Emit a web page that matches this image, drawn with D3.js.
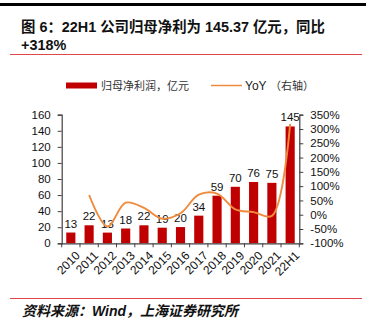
<!DOCTYPE html>
<html><head><meta charset="utf-8">
<script src="https://cdn.jsdelivr.net/npm/d3@7/dist/d3.min.js"></script>
<style>
body{margin:0;background:#fff;}
svg{display:block;font-family:"Liberation Sans",Arial,sans-serif;}
</style></head>
<body>
<svg id="c" width="369" height="325"></svg>
<script>
const categories = ["2010","2011","2012","2013","2014","2015","2016","2017","2018","2019","2020","2021","22H1"];
const profit = [13.4, 22.4, 13.3, 18.4, 22.4, 19.4, 20.2, 34.4, 59.2, 70.3, 76.3, 75.2, 145.37];
const profitLabels = ["13","22","13","18","22","19","20","34","59","70","76","75","145"];
const yoy = [null, 69, -41, 42, 24, -14, 5, 70, 74, 19, 9, -4, 318];
const leftTicks = [0,20,40,60,80,100,120,140,160];
const rightTicks = [-100,-50,0,50,100,150,200,250,300,350];

const svg = d3.select("#c");
const L = 61.7, R = 299.3, T = 114.7, B = 243.3;
const x = d3.scaleBand().domain(categories).range([L, R]).paddingInner(0.5).paddingOuter(0.25);
const y = d3.scaleLinear().domain([0,160]).range([B, T]);
const y2 = d3.scaleLinear().domain([-100,350]).range([B, T]);
const axisColor = "#404040";

// top black rule
svg.append("rect").attr("x",0).attr("y",3).attr("width",366).attr("height",3).attr("fill","#000");
// title
const title = svg.append("text").attr("font-weight","bold").attr("font-size",14.4).attr("fill","#111")
  .attr("font-family","'Liberation Sans','Noto Sans CJK SC',sans-serif");
title.append("tspan").attr("x",21).attr("y",32).text("图 6：22H1 公司归母净利为 145.37 亿元，同比");
title.append("tspan").attr("x",21).attr("y",50).text("+318%");
// red rules
svg.append("line").attr("x1",10).attr("x2",362).attr("y1",54.5).attr("y2",54.5).attr("stroke","#E0474C").attr("stroke-width",1);
svg.append("line").attr("x1",10).attr("x2",362).attr("y1",298.5).attr("y2",298.5).attr("stroke","#E0474C").attr("stroke-width",1);
// source
svg.append("text").attr("x",22).attr("y",316).attr("font-size",14).attr("font-style","italic").attr("font-weight","bold")
  .attr("fill","#111").attr("font-family","'Liberation Sans','Noto Sans CJK SC',sans-serif")
  .text("资料来源：Wind，上海证券研究所");

// legend
svg.append("rect").attr("x",66).attr("y",82.5).attr("width",31).attr("height",6).attr("fill","#C00000");
svg.append("text").attr("x",101).attr("y",89.5).attr("font-size",11).attr("fill","#333")
  .attr("font-family","'Noto Sans CJK SC',sans-serif").text("归母净利润，亿元");
svg.append("line").attr("x1",211).attr("x2",242).attr("y1",85.5).attr("y2",85.5).attr("stroke","#F08A3C").attr("stroke-width",1.5);
svg.append("text").attr("x",245).attr("y",90).attr("font-size",12).attr("fill","#222").text("YoY");
svg.append("text").attr("x",270).attr("y",89.5).attr("font-size",11).attr("fill","#333")
  .attr("font-family","'Noto Sans CJK SC',sans-serif").text("（右轴）");

// bars
svg.append("g").selectAll("rect").data(categories).join("rect")
  .attr("x", d => x(d)).attr("width", x.bandwidth())
  .attr("y", (d,i) => y(profit[i])).attr("height", (d,i) => B - y(profit[i]))
  .attr("fill","#C00000");
// bar labels
svg.append("g").selectAll("text").data(categories).join("text")
  .attr("x", d => x(d) + x.bandwidth()/2).attr("y", (d,i) => y(profit[i]) - 5)
  .attr("text-anchor","middle").attr("font-size",11.5).attr("fill","#111")
  .text((d,i) => profitLabels[i]);

// line
const pts = categories.map((c,i) => [x(c) + x.bandwidth()/2, yoy[i]]).filter(p => p[1] !== null);
svg.append("path").datum(pts)
  .attr("d", d3.line().x(p => p[0]).y(p => y2(p[1])).curve(d3.curveCatmullRom.alpha(0.5)))
  .attr("fill","none").attr("stroke","#F08A3C").attr("stroke-width",1.9);

// left axis
const gl = svg.append("g").attr("transform",`translate(${L},0)`)
  .call(d3.axisLeft(y).tickValues(leftTicks).tickSize(4).tickPadding(7));
// right axis
const gr = svg.append("g").attr("transform",`translate(${R},0)`)
  .call(d3.axisRight(y2).tickValues(rightTicks).tickSize(4).tickPadding(7).tickFormat(d => d + "%"));
// bottom axis
const gb = svg.append("g").attr("transform",`translate(0,${B})`)
  .call(d3.axisBottom(x).tickSize(0).tickFormat(""));
const bounds = d3.range(categories.length + 1).map(i => L + i * x.step());
gb.selectAll("line.bt").data(bounds).join("line").attr("class","bt")
  .attr("x1", d => d).attr("x2", d => d).attr("y1",0).attr("y2",4).attr("stroke",axisColor);
gb.selectAll("text.xl").data(categories).join("text").attr("class","xl")
  .attr("transform", d => `translate(${x(d) + x.bandwidth()/2 + 4},7) rotate(-45)`)
  .attr("text-anchor","end").attr("font-size",12).attr("fill","#111").attr("dy","0.7em").text(d => d);

[gl,gr,gb].forEach(g => {
  g.select(".domain").attr("stroke",axisColor).attr("stroke-width",1.2);
  g.selectAll(".tick line").attr("stroke",axisColor);
  g.selectAll(".tick text").attr("font-size",11.5).attr("fill","#111").attr("font-family","'Liberation Sans',Arial,sans-serif");
});
</script>
</body></html>
